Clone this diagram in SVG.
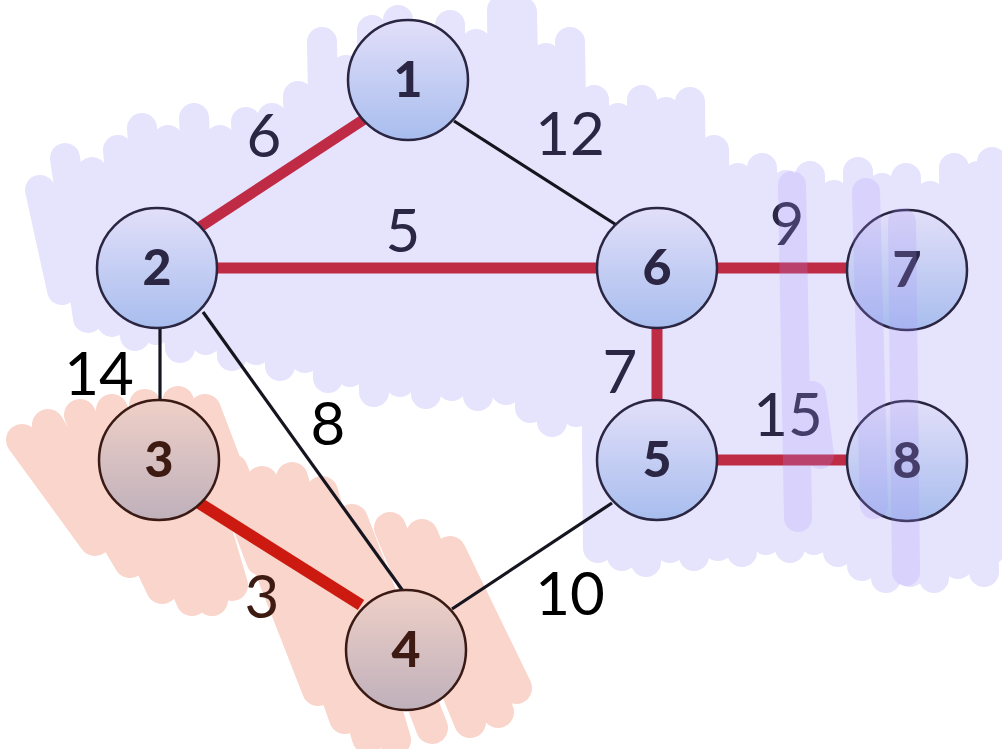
<svg xmlns="http://www.w3.org/2000/svg" width="1002" height="749" viewBox="0 0 1002 749">
  <style>
    .hl-blue { fill: none; stroke: #e6e3fd; stroke-width: 30; stroke-linecap: round; }
    .hl-violet { fill: none; stroke: #a898fa; stroke-width: 28; stroke-linecap: round; opacity: 0.22; }
    .hl-salmon { fill: none; stroke: #f9d5cb; stroke-width: 32; stroke-linecap: round; }
    .mst { stroke: #bf2a45; stroke-width: 11; fill: none; }
    .mst-hot { stroke: #cc1a10; stroke-width: 12; fill: none; }
    .edge { stroke: #15151f; stroke-width: 3.2; fill: none; }
    .blue circle { fill: url(#gBlue); stroke: #2a2540; stroke-width: 2.5; }
    .brown circle { fill: url(#gBrown); stroke: #3a1a14; stroke-width: 2.5; }
    .node text { font-family: Lato, "Open Sans", sans-serif; font-weight: 900; font-size: 50px; text-anchor: middle; }
    .blue text { fill: #2a2643; }
    .brown text { fill: #3d1a12; }
    .w { font-family: Lato, "Open Sans", sans-serif; font-size: 60px; text-anchor: middle; }
  </style>
  <defs>
    <linearGradient id="gBlue" x1="0" y1="0" x2="0" y2="1">
      <stop offset="0" stop-color="#e2dff9"/>
      <stop offset="1" stop-color="#a8bdee"/>
    </linearGradient>
    <linearGradient id="gBrown" x1="0" y1="0" x2="0" y2="1">
      <stop offset="0" stop-color="#efd0c7"/>
      <stop offset="1" stop-color="#bfb0bb"/>
    </linearGradient>
  </defs>

  <rect width="1002" height="749" fill="#ffffff"/>

  <!-- lavender scribble behind the upper cluster -->
  <path class="hl-blue" d="M40,190 L62,290 M65,158 L88,318 M92,172 L112,322 M118,150 L135,336 M142,128 L156,330 M168,140 L180,348 M194,118 L206,340 M220,140 L232,356 M246,122 L256,350 M272,118 L280,366 M298,96 L305,358 M322,42 L328,378 M346,70 L350,372 M372,30 L374,392 M398,20 L400,382 M424,40 L426,394 M450,25 L452,386 M476,44 L478,396 M502,10 L506,390 M522,12 L530,408 M546,58 L552,422 M570,42 L576,412 M594,100 L598,548 M618,118 L622,556 M642,100 L646,562 M666,112 L670,548 M690,102 L694,556 M714,150 L718,546 M738,178 L742,552 M762,168 L766,540 M786,185 L790,548 M810,176 L814,540 M834,195 L838,552 M858,172 L862,566 M882,188 L886,578 M906,178 L910,572 M930,196 L934,578 M954,168 L958,564 M978,176 L984,572 M992,162 L990,550"/>

  <!-- salmon scribble around nodes 3 and 4 -->
  <path class="hl-salmon" d="M22,440 L95,540 M48,425 L130,562 M80,415 L162,588 M112,410 L192,600 M145,405 L212,600 M178,402 L232,585 M205,410 L262,560 M232,470 L318,690 M262,482 L345,718 M292,478 L368,738 M322,492 L395,740 M352,520 L432,728 M390,528 L470,722 M422,535 L498,712 M450,552 L516,688"/>

  <!-- connectors -->
  <g id="edges">
    <line class="edge" x1="454" y1="121" x2="618" y2="226"/>
    <line class="edge" x1="160" y1="328" x2="160" y2="400"/>
    <line class="edge" x1="203" y1="312" x2="403" y2="591"/>
    <line class="edge" x1="612" y1="503" x2="452" y2="609"/>
    <line class="mst" x1="366" y1="118" x2="200" y2="227"/>
    <line class="mst" x1="217" y1="268" x2="598" y2="268"/>
    <line class="mst" x1="716" y1="268" x2="848" y2="268"/>
    <line class="mst" x1="657" y1="327" x2="657" y2="401"/>
    <line class="mst" x1="716" y1="460" x2="848" y2="460"/>
    <line class="mst-hot" x1="199" y1="503" x2="361" y2="605"/>
  </g>

  <!-- weights -->
  <g id="weights">
    <text class="w" x="264" y="157" fill="#2a2643">6</text>
    <text class="w" x="570" y="155" fill="#2a2643">12</text>
    <text class="w" x="403" y="252" fill="#2a2643">5</text>
    <text class="w" x="787" y="245" fill="#2a2643">9</text>
    <text class="w" x="99" y="395" fill="#000000">14</text>
    <text class="w" x="620" y="393" fill="#2a2643">7</text>
    <text class="w" x="328" y="445" fill="#000000">8</text>
    <text class="w" x="788" y="436" fill="#2a2643">15</text>
    <text class="w" x="262" y="618" fill="#3d1a12">3</text>
    <text class="w" x="570" y="615" fill="#000000">10</text>
  </g>

  <!-- nodes -->
  <g id="node-1" class="node blue"><circle cx="408" cy="80" r="60"/><text x="408" y="97">1</text></g>
  <g id="node-2" class="node blue"><circle cx="157" cy="268" r="60"/><text x="157" y="285">2</text></g>
  <g id="node-6" class="node blue"><circle cx="657" cy="268" r="60"/><text x="657" y="285">6</text></g>
  <g id="node-7" class="node blue"><circle cx="907" cy="270" r="60"/><text x="907" y="287">7</text></g>
  <g id="node-5" class="node blue"><circle cx="657" cy="460" r="60"/><text x="657" y="477">5</text></g>
  <g id="node-8" class="node blue"><circle cx="907" cy="461" r="60"/><text x="907" y="478">8</text></g>
  <g id="node-3" class="node brown"><circle cx="159" cy="460" r="60"/><text x="159" y="477">3</text></g>
  <g id="node-4" class="node brown"><circle cx="406" cy="650" r="60"/><text x="406" y="667">4</text></g>

  <!-- translucent violet strokes laid over nodes 7 and 8 -->
  <path class="hl-violet" d="M792,185 L798,518 M866,192 L874,505 M902,222 L906,572 M812,395 L820,455"/>
</svg>
